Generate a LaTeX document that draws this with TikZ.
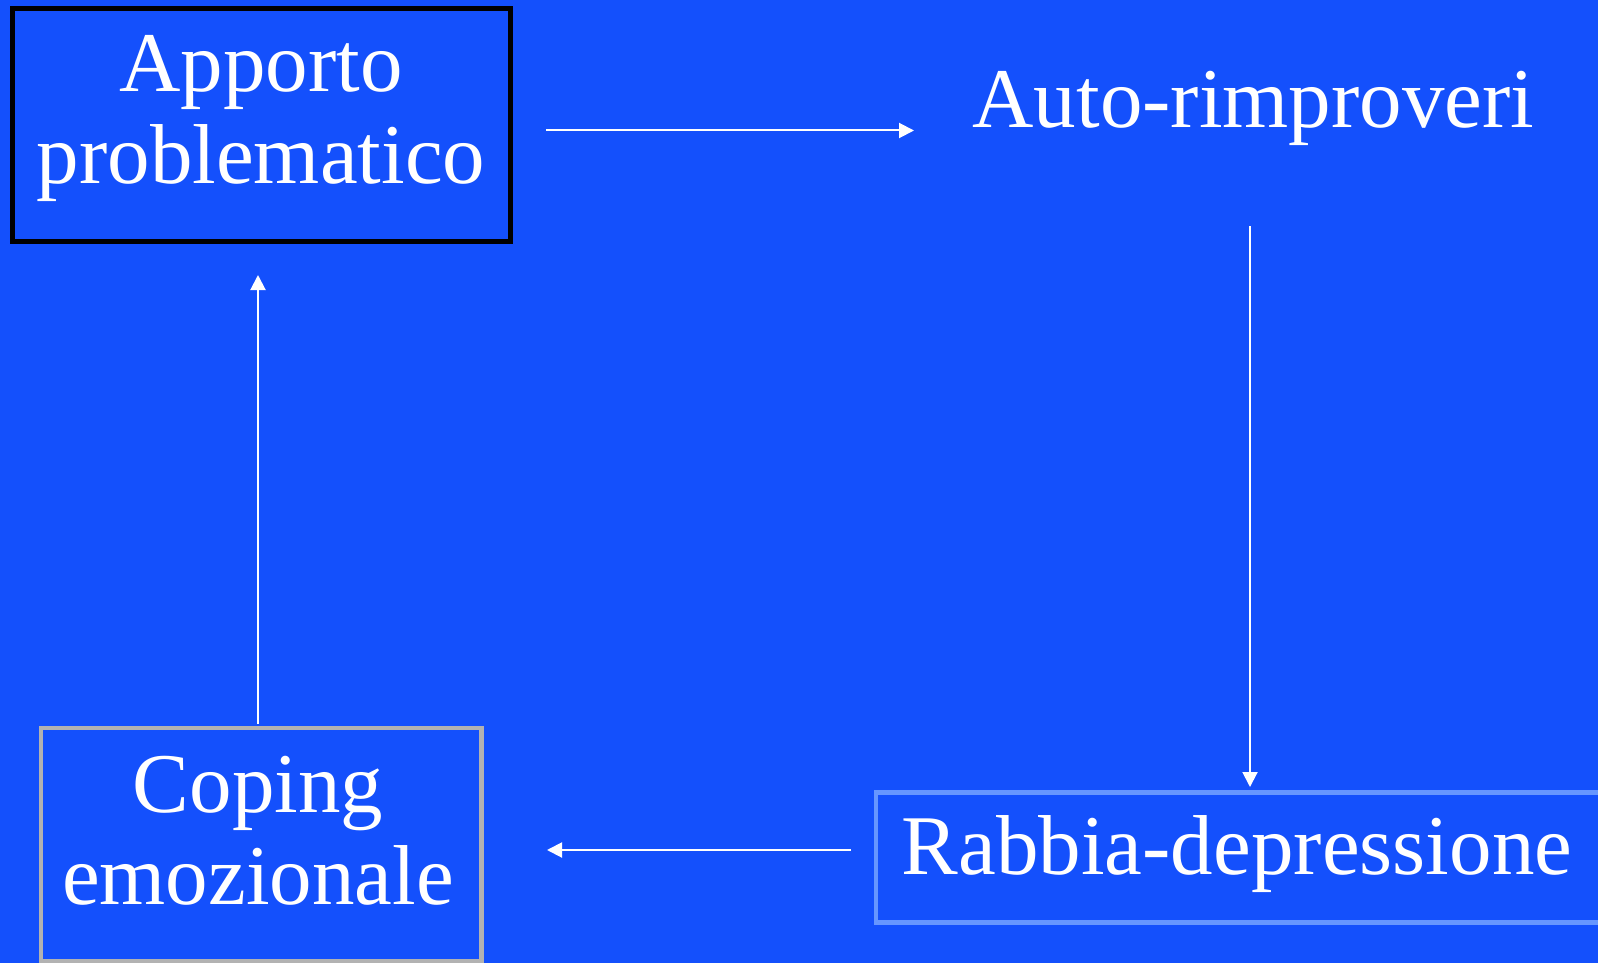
\documentclass[tikz,border=0pt]{standalone}
\usepackage{fontspec}
\setmainfont{Liberation Serif}
\usetikzlibrary{arrows.meta}
\definecolor{slide}{RGB}{20,80,252}
\definecolor{paleblue}{RGB}{102,150,255}
\definecolor{boxgray}{RGB}{178,178,178}
\begin{document}
\begin{tikzpicture}[x=1pt,y=-1pt,
  frame/.style={draw, line width=4.5pt, fill=slide, inner sep=0pt, outer sep=0pt},
  label/.style={text=white, font=\fontsize{85}{92}\selectfont, align=center, inner sep=0pt, anchor=base},
  flow/.style={draw=white, line width=2pt, -{Triangle[length=15pt,width=15pt]}}]
  % page and background
  \useasboundingbox (0,0) rectangle (1598,963);
  \clip (0,0) rectangle (1598,963);
  \fill[slide] (0,0) rectangle (1598,963);

  % boxes
  \node[frame, draw=black, minimum width=498pt, minimum height=233pt] (apporto) at (261.4,124.9) {};
  \node[frame, draw=boxgray, minimum width=440.7pt, minimum height=233pt] (coping) at (261.3,844.5) {};
  \node[frame, draw=paleblue, minimum width=725.7pt, minimum height=130.4pt] (rabbia) at (1239,857.5) {};

  % texts (base = baseline of the last line)
  \node[label] (tApporto) at (261,183.5) {Apporto\\problematico};
  \node[label] (tAuto) at (1253.5,127.4) {Auto-rimproveri};
  \node[label] (tCoping) at (258,904) {Coping\\emozionale};
  \node[label] (tRabbia) at (1237,874) {Rabbia-depressione};

  % arrow end points
  \coordinate (a1) at (546,130.5);
  \coordinate (a2) at (914,130.5);
  \coordinate (b1) at (1250,226);
  \coordinate (b2) at (1250,787);
  \coordinate (c1) at (851,850);
  \coordinate (c2) at (547,850);
  \coordinate (d1) at (258,723.5);
  \coordinate (d2) at (258,275);

  % cycle arrows
  \draw[flow] (a1) -- (a2);
  \draw[flow] (b1) -- (b2);
  \draw[flow] (c1) -- (c2);
  \draw[flow] (d1) -- (d2);
\end{tikzpicture}
\end{document}
